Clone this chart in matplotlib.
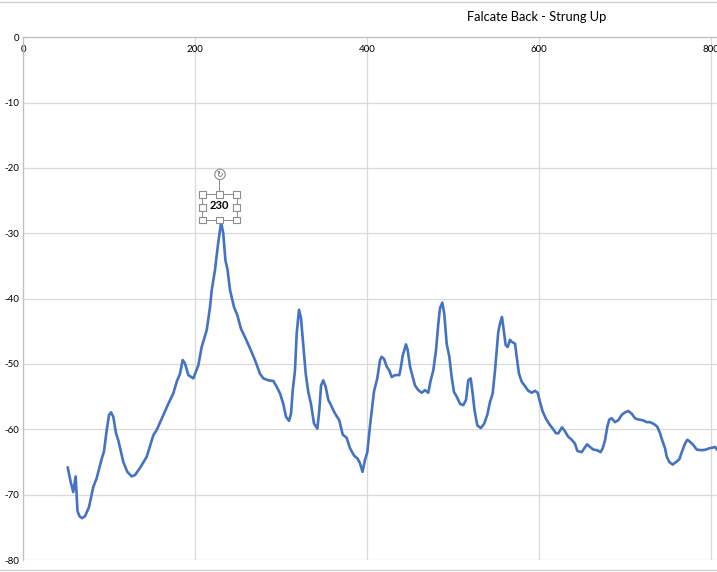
import matplotlib
matplotlib.use("Agg")
import matplotlib.pyplot as plt
from matplotlib.patches import Rectangle, Circle
from matplotlib.lines import Line2D
from matplotlib.transforms import IdentityTransform

title = "Falcate Back - Strung Up"
x_ticks = [0, 200, 400, 600, 800]
y_ticks = [0, -10, -20, -30, -40, -50, -60, -70, -80]

freq = [51.6, 55.0, 58.1, 60.9, 63.0, 65.3, 68.3, 71.7, 76.4, 81.4, 85.3, 91.2, 93.8, 97.0,
        99.7, 102.0, 104.7, 107.8, 110.5, 116.3, 120.9, 126.0, 129.9, 135.7, 143.5, 151.2,
        155.1, 160.9, 168.6, 174.4, 178.7, 182.2, 185.3, 188.0, 191.9, 197.7, 203.5, 207.4,
        213.3, 217.1, 219.1, 222.9, 226.5, 230.0, 232.5, 235.0, 237.5, 240.4, 245.0, 248.8,
        253.1, 257.8, 263.6, 269.4, 275.2, 279.1, 284.9, 290.7, 294.7, 298.5, 302.3, 305.5,
        309.0, 311.3, 313.3, 315.9, 317.9, 320.6, 322.9, 325.6, 328.4, 331.4, 334.5, 338.0,
        341.9, 344.2, 346.2, 348.8, 351.6, 354.7, 357.4, 361.3, 364.4, 367.4, 371.4, 376.0,
        379.9, 384.5, 388.8, 391.5, 394.4, 397.3, 400.0, 403.1, 407.8, 411.6, 414.8, 416.7,
        419.4, 422.6, 425.6, 428.4, 432.2, 437.2, 438.8, 441.2, 445.0, 447.0, 449.7, 452.8,
        455.5, 459.3, 463.3, 467.1, 470.9, 473.7, 476.7, 479.9, 482.6, 484.5, 487.2, 489.5,
        492.3, 495.4, 498.1, 500.8, 504.0, 507.8, 511.6, 514.8, 517.4, 520.2, 522.3, 524.7,
        527.9, 531.9, 535.7, 539.5, 542.7, 545.8, 548.5, 550.5, 552.3, 554.3, 556.6, 558.1,
        560.9, 563.3, 565.9, 567.9, 571.8, 573.7, 576.4, 579.5, 583.4, 587.2, 591.2, 595.0,
        598.1, 600.8, 604.0, 607.8, 611.6, 615.6, 619.4, 622.1, 626.4, 629.9, 633.4, 637.7,
        641.5, 644.2, 649.3, 652.3, 655.5, 658.1, 662.8, 667.5, 671.2, 673.7, 676.4, 679.1,
        681.4, 684.2, 688.0, 691.9, 695.8, 699.7, 703.5, 707.4, 711.3, 715.1, 720.2, 724.9,
        728.7, 733.4, 737.2, 740.4, 743.5, 746.2, 748.2, 751.2, 755.1, 758.9, 762.8, 765.6,
        769.4, 772.1, 775.2, 779.1, 783.0, 788.8, 793.8, 797.7, 801.6, 804.3, 806.6, 810.0]

level = [-65.8, -68.0, -69.6, -67.2, -72.5, -73.3, -73.6, -73.3, -71.9, -68.8, -67.5, -64.5,
         -63.4, -60.1, -57.8, -57.4, -58.1, -60.6, -61.7, -65.0, -66.5, -67.2, -67.0, -65.9,
         -64.2, -60.9, -60.1, -58.4, -56.1, -54.5, -52.6, -51.5, -49.4, -49.9, -51.7, -52.2,
         -50.2, -47.4, -44.8, -41.3, -38.7, -35.6, -31.6, -28.3, -30.0, -34.1, -35.6, -38.7,
         -41.3, -42.5, -44.6, -45.9, -47.6, -49.4, -51.5, -52.2, -52.5, -52.6, -53.5, -54.5,
         -56.1, -58.1, -58.7, -57.6, -54.0, -51.0, -45.3, -41.7, -43.0, -47.1, -51.5, -54.3,
         -56.1, -59.1, -59.9, -57.1, -53.3, -52.5, -53.5, -55.5, -56.2, -57.3, -58.0, -58.6,
         -60.8, -61.3, -62.9, -64.0, -64.5, -65.2, -66.5, -64.7, -63.5, -59.5, -54.2, -52.2,
         -49.4, -48.9, -49.2, -50.4, -51.0, -52.0, -51.7, -51.7, -50.7, -48.7, -47.0, -47.9,
         -50.4, -52.0, -53.3, -54.0, -54.4, -54.0, -54.4, -52.5, -51.0, -47.9, -43.8, -41.5,
         -40.6, -42.3, -46.9, -48.9, -52.0, -54.3, -55.0, -56.1, -56.3, -55.5, -52.5, -52.2,
         -54.3, -57.1, -59.4, -59.8, -59.2, -57.8, -55.8, -54.5, -51.0, -47.9, -45.1, -43.8,
         -42.8, -44.3, -47.1, -47.4, -46.3, -46.6, -46.9, -48.9, -51.5, -52.7, -53.4, -54.1,
         -54.4, -54.1, -54.4, -55.8, -57.3, -58.4, -59.2, -59.9, -60.6, -60.6, -59.7, -60.3,
         -61.1, -61.6, -62.2, -63.3, -63.5, -62.9, -62.3, -62.6, -63.1, -63.2, -63.5, -62.9,
         -61.7, -59.6, -58.5, -58.3, -58.9, -58.6, -57.8, -57.4, -57.2, -57.6, -58.3, -58.5,
         -58.6, -58.9, -58.9, -59.2, -59.6, -60.6, -61.9, -62.9, -64.2, -65.0, -65.4, -65.0,
         -64.6, -63.5, -62.2, -61.6, -61.9, -62.4, -63.1, -63.2, -63.1, -62.9, -62.8, -62.7,
         -63.1, -63.2]

W, H = 717, 572
DPI = 100
plt.rcParams['font.family'] = ['Lato', 'DejaVu Sans']

fig = plt.figure(figsize=(W / DPI, H / DPI), dpi=DPI)
ax_left, ax_top, ax_bot = 23.3, 37.3, 560.0
ax = fig.add_axes([ax_left / W, (H - ax_bot) / H, 1 - ax_left / W, (ax_bot - ax_top) / H])
x_max = 800 * (W - ax_left) / (711.3 - ax_left)
ax.set_xlim(0, x_max)
ax.set_ylim(-80, 0)

line_color = '#4472C4'
ax.plot(freq, level, color=line_color, lw=1.9, solid_joinstyle='round',
        solid_capstyle='round', zorder=3)

ax.set_xticks(x_ticks)
ax.set_yticks(y_ticks)
ax.set_xticklabels([str(v) for v in x_ticks])
ax.set_yticklabels([str(v) for v in y_ticks])
ax.grid(True, color='#d9d9d9', lw=0.9)
ax.set_axisbelow(True)
for s in ['right', 'bottom']:
    ax.spines[s].set_visible(False)
for s in ['left', 'top']:
    ax.spines[s].set_color('#bfbfbf')
    ax.spines[s].set_linewidth(0.9)
ax.xaxis.tick_top()
ax.tick_params(axis='x', length=0, pad=-12, labelsize=7, colors='#000000')
ax.tick_params(axis='y', length=0, pad=3, labelsize=7, colors='#000000')

fig.text(536.5 / W, 1 - 17 / H, title, ha='center', va='center', fontsize=9.3,
         color='#000000')

# outer chart border lines
fig.add_artist(Line2D([0, 1], [1 - 1.5 / H] * 2, transform=fig.transFigure,
                      color='#cfcfcf', lw=1.0))
fig.add_artist(Line2D([0, 1], [1 - 569.5 / H] * 2, transform=fig.transFigure,
                      color='#cfcfcf', lw=1.0))

# data label of the highest point with selection handles
i_peak = max(range(len(level)), key=lambda i: level[i])
px, py = ax.transData.transform((freq[i_peak], level[i_peak]))
ident = IdentityTransform()
hx = [px - 18.8, px - 1.8, px + 15.6]
hy = [py + 27.8, py + 14.8, py + 2.1]
box_col = '#8c8c8c'
fig.add_artist(Rectangle((hx[0], hy[2]), hx[2] - hx[0], hy[0] - hy[2], transform=ident,
                         fill=False, ec=box_col, lw=0.7, zorder=5))
cx, cy, r = px - 1.1, py + 47.8, 5.2
fig.add_artist(Line2D([hx[1], hx[1]], [hy[0], cy - r], transform=ident, color=box_col,
                      lw=0.7, zorder=5))
fig.add_artist(Circle((cx, cy), r, transform=ident, fc='white', ec=box_col, lw=0.8, zorder=6))
fig.text(cx, cy, '↻', transform=ident, ha='center', va='center', fontsize=5.5,
         family='DejaVu Sans', color='#555555', zorder=7)
s = 6.5
for xx in hx:
    for yy in hy:
        if xx == hx[1] and yy == hy[1]:
            continue
        fig.add_artist(Rectangle((xx - s / 2, yy - s / 2), s, s, transform=ident,
                                 fc='white', ec=box_col, lw=0.8, zorder=6))
fig.text(px - 2, py + 16.4, f"{freq[i_peak]:.0f}", transform=ident, ha='center',
         va='center', fontsize=8, fontweight='bold', color='#000000', zorder=7)

fig.savefig('out.png', dpi=DPI)
